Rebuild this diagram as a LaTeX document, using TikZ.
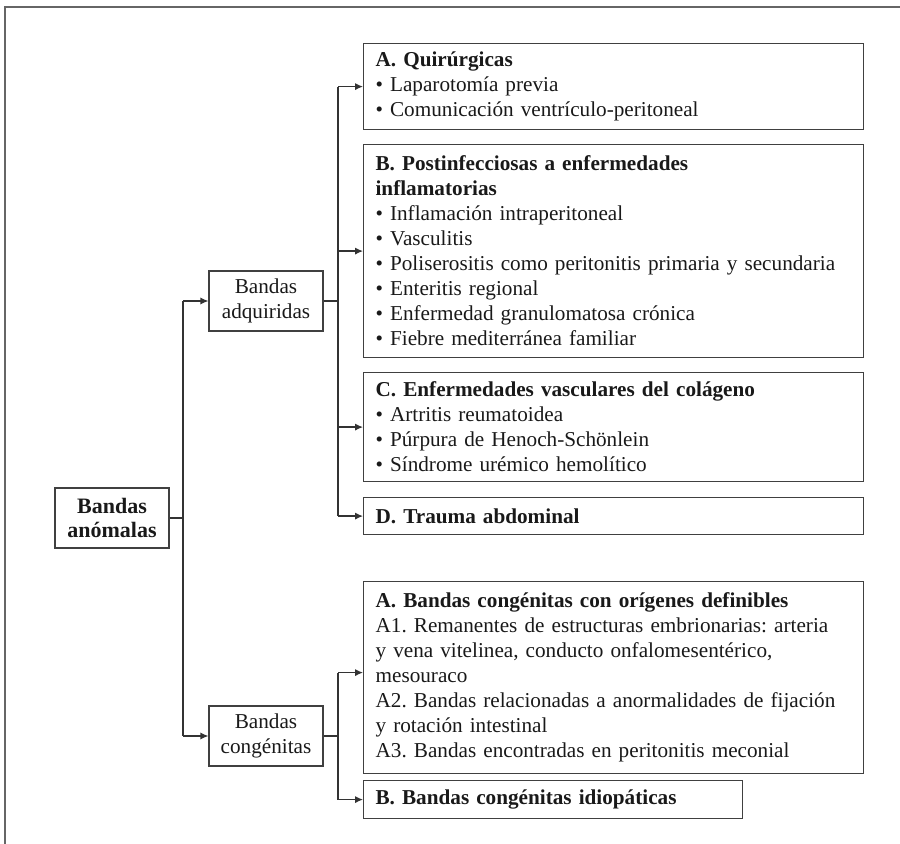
\documentclass[tikz,border=0pt]{standalone}
\usepackage{fontspec}
\setmainfont{Liberation Serif}
\usetikzlibrary{arrows.meta}
\frenchspacing

\begin{document}
\begin{tikzpicture}[
    x=0.5pt, y=-0.5pt,
    >={Latex[length=4pt,width=3.6pt]},
    every node/.style={font=\fontsize{10.6}{12.5}\selectfont,text=black!90},
    root/.style={draw=black!75,line width=0.6pt,minimum width=57pt,minimum height=30pt,inner sep=0pt,align=center,font=\fontsize{11}{12}\selectfont\bfseries},
    mid/.style={root,font=\fontsize{10.6}{12.5}\selectfont},
    cat/.style={draw=black!75,line width=0.6pt,anchor=north west,minimum width=250pt,text width=238pt,inner xsep=6pt,inner ysep=0pt,align=left},
    link/.style={draw=black!80,line width=0.6pt},
    frame/.style={draw=black!60,line width=0.8pt}
  ]
  \useasboundingbox (0,0) rectangle (900,844);
  % page frame
  \draw[frame] (900,7) -- (5,7) -- (5,844);
  % root and the two branches
  \node[root] (anom) at (112,518) {Bandas\\anómalas};
  \node[mid] (adq) at (266,301) {Bandas\\adquiridas};
  \node[mid] (cong) at (266,736) {Bandas\\congénitas};
  % acquired bands
  \node[cat,minimum height=43pt] (qui) at (363,43)
    {\textbf{A. Quirúrgicas}\\
     • Laparotomía previa\\
     • Comunicación ventrículo-peritoneal};
  \node[cat,minimum height=106.5pt] (post) at (363,144)
    {\textbf{B. Postinfecciosas a enfermedades}\\
     \textbf{inflamatorias}\\
     • Inflamación intraperitoneal\\
     • Vasculitis\\
     • Poliserositis como peritonitis primaria y secundaria\\
     • Enteritis regional\\
     • Enfermedad granulomatosa crónica\\
     • Fiebre mediterránea familiar};
  \node[cat,minimum height=54.5pt] (vasc) at (363,372)
    {\textbf{C. Enfermedades vasculares del colágeno}\\
     • Artritis reumatoidea\\
     • Púrpura de Henoch-Schönlein\\
     • Síndrome urémico hemolítico};
  \node[cat,minimum height=18.5pt] (trau) at (363,497)
    {\textbf{D. Trauma abdominal}};
  % congenital bands
  \node[cat,minimum height=96pt] (orig) at (363,581)
    {\textbf{A. Bandas congénitas con orígenes definibles}\\
     A1. Remanentes de estructuras embrionarias: arteria\\
     y vena vitelinea, conducto onfalomesentérico,\\
     mesouraco\\
     A2. Bandas relacionadas a anormalidades de fijación\\
     y rotación intestinal\\
     A3. Bandas encontradas en peritonitis meconial};
  \node[cat,minimum height=19pt,minimum width=189.5pt,text width=177.5pt] (idio) at (363,780)
    {\textbf{B. Bandas congénitas idiopáticas}};
  % junctions
  \coordinate (j1) at (183,518);
  \coordinate (j2) at (338,301);
  \coordinate (j3) at (338,736);
  % connectors
  \draw[link] (anom) -- (j1);
  \draw[link] (j1) -- (j1 |- adq) (j1) -- (j1 |- cong);
  \draw[link,->] (j1 |- adq) -- (adq);
  \draw[link,->] (j1 |- cong) -- (cong);
  \draw[link] (adq) -- (j2);
  \draw[link] (j2 |- qui.west) -- (j2 |- trau.west);
  \foreach \n in {qui,post,vasc,trau}
    \draw[link,->] (j2 |- \n.west) -- (\n.west);
  \draw[link] (cong) -- (j3);
  \coordinate (oin) at ([yshift=2.5pt]orig.west);
  \draw[link] (j2 |- oin) -- (j2 |- idio.west);
  \draw[link,->] (j2 |- oin) -- (oin);
  \draw[link,->] (j2 |- idio.west) -- (idio.west);
\end{tikzpicture}
\end{document}
